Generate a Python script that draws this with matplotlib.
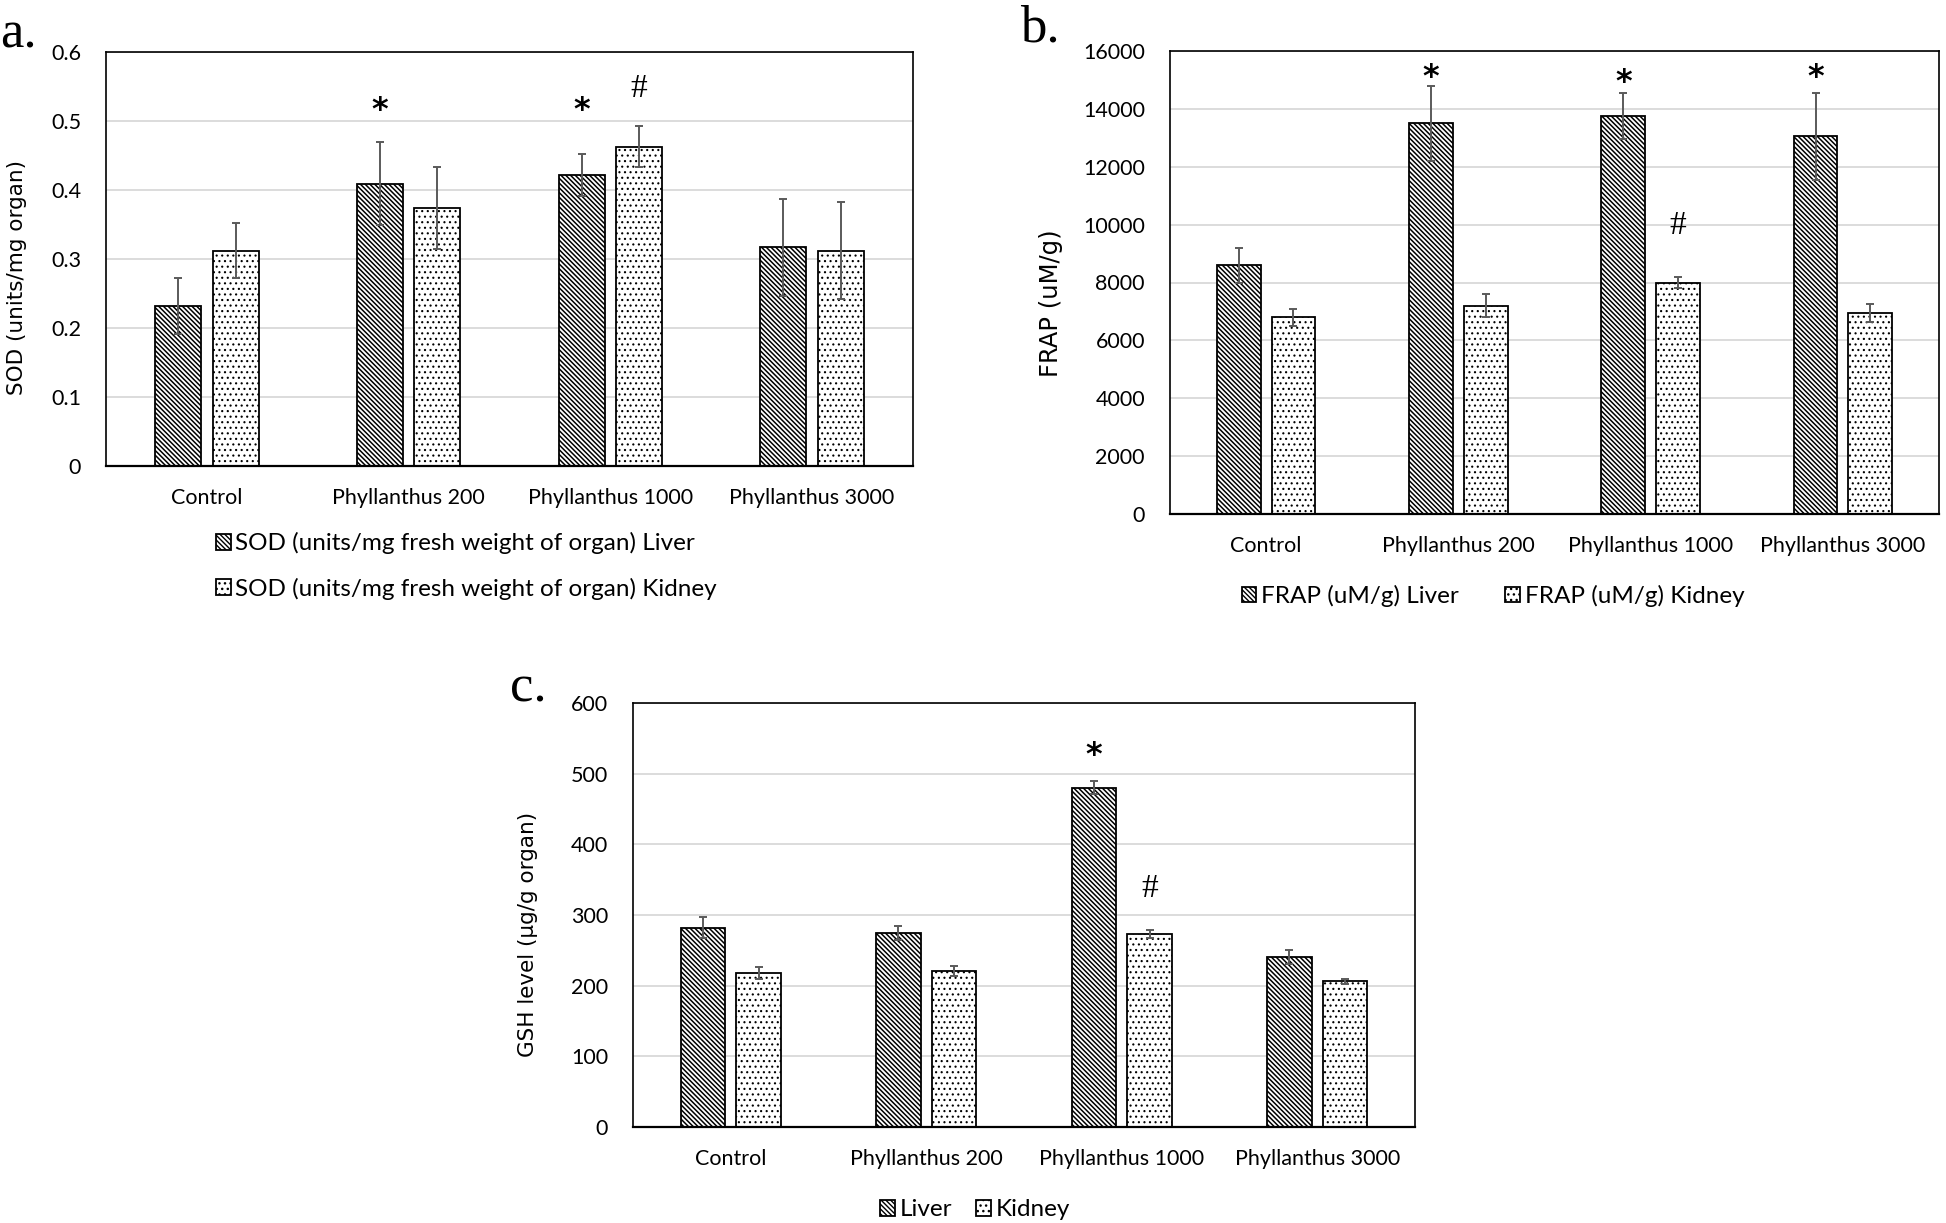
import numpy as np
import matplotlib
matplotlib.use("Agg")
import matplotlib.pyplot as plt

# ---------------- data ----------------
categories = ["Control", "Phyllanthus 200", "Phyllanthus 1000", "Phyllanthus 3000"]

sod_liver = [0.232, 0.409, 0.422, 0.317]
sod_liver_err = [0.040, 0.060, 0.030, 0.070]
sod_kidney = [0.312, 0.374, 0.463, 0.312]
sod_kidney_err = [0.040, 0.060, 0.030, 0.070]
sod_ticks = [0, 0.1, 0.2, 0.3, 0.4, 0.5, 0.6]
sod_tick_labels = ["0", "0.1", "0.2", "0.3", "0.4", "0.5", "0.6"]

frap_liver = [8600, 13500, 13750, 13050]
frap_liver_err = [600, 1300, 800, 1500]
frap_kidney = [6800, 7200, 8000, 6950]
frap_kidney_err = [300, 400, 200, 300]
frap_ticks = [0, 2000, 4000, 6000, 8000, 10000, 12000, 14000, 16000]

gsh_liver = [282, 275, 480, 241]
gsh_liver_err = [15, 10, 9, 10]
gsh_kidney = [218, 221, 273, 206]
gsh_kidney_err = [9, 7, 6, 3]
gsh_ticks = [0, 100, 200, 300, 400, 500, 600]

# significance marks: (category index, series, symbol, y position)
sod_marks = [(1, "liver", "*", 0.515), (2, "liver", "*", 0.515), (2, "kidney", "#", 0.547)]
frap_marks = [(1, "liver", "*", 15100), (2, "liver", "*", 14900), (3, "liver", "*", 15100),
              (2, "kidney", "#", 9960)]
gsh_marks = [(2, "liver", "*", 525), (2, "kidney", "#", 337)]

# ---------------- style ----------------
TICK_FONT = ["Lato", "DejaVu Sans"]
YLAB_FONT = ["DejaVu Sans"]
SERIF = ["Liberation Serif", "DejaVu Serif"]
plt.rcParams["font.family"] = TICK_FONT

W, H = 1946, 1223
fig = plt.figure(figsize=(W / 100, H / 100), dpi=100)
fig.patch.set_facecolor("white")

BAR_W = 0.228
OFF = 0.142
ERR_C = "#5a5a5a"
LEG_FS = 17.5
LIVER_HATCH, LIVER_HLW = "\\" * 7, 1.1
KIDNEY_HATCH, KIDNEY_HLW = "...", 0.8


def hatched_bars(ax, xpos, vals, hatch, hlw):
    with plt.rc_context({"hatch.linewidth": hlw}):
        bars = ax.bar(xpos, vals, BAR_W, color="white", edgecolor="black",
                      linewidth=1.3, hatch=hatch, zorder=2)
    for p in bars:
        if hasattr(p, "set_hatch_linewidth"):
            p.set_hatch_linewidth(hlw)
    return bars


def make_panel(rect, liver, liver_err, kidney, kidney_err, ticks, ylim, ylabel,
               ylab_x, marks, tick_labels=None):
    ax = fig.add_axes(rect)
    x = np.arange(len(categories))
    b1 = hatched_bars(ax, x - OFF, liver, LIVER_HATCH, LIVER_HLW)
    b2 = hatched_bars(ax, x + OFF, kidney, KIDNEY_HATCH, KIDNEY_HLW)
    ax.errorbar(x - OFF, liver, yerr=liver_err, fmt="none", ecolor=ERR_C,
                elinewidth=1.4, capsize=3, capthick=1.4, zorder=3)
    ax.errorbar(x + OFF, kidney, yerr=kidney_err, fmt="none", ecolor=ERR_C,
                elinewidth=1.4, capsize=3, capthick=1.4, zorder=3)
    ax.set_xlim(-0.5, len(categories) - 0.5)
    ax.set_ylim(*ylim)
    ax.set_yticks(ticks)
    if tick_labels is not None:
        ax.set_yticklabels(tick_labels)
    ax.set_xticks(x)
    ax.set_xticklabels(categories)
    ax.tick_params(axis="both", length=0, labelsize=15.5)
    ax.tick_params(axis="y", pad=18)
    ax.tick_params(axis="x", pad=16)
    ax.yaxis.grid(True, color="#d9d9d9", linewidth=1.3)
    ax.set_axisbelow(True)
    for s in ax.spines.values():
        s.set_color("black")
        s.set_linewidth(1.2)
    ax.spines["bottom"].set_linewidth(1.6)
    ax.set_ylabel(ylabel, fontsize=15.5, family=YLAB_FONT)
    ax.yaxis.set_label_coords(ylab_x, 0.455)
    for idx, series, sym, yy in marks:
        xx = idx - OFF if series == "liver" else idx + OFF
        if sym == "*":
            ax.text(xx, yy, sym, ha="center", va="center", fontsize=23,
                    family=["DejaVu Sans"], fontweight="bold")
        else:
            ax.text(xx, yy, sym, ha="center", va="center", fontsize=24,
                    family=SERIF)
    return ax, b1, b2


# panel a
axa, a1, a2 = make_panel([106 / W, 1 - 466 / H, (913 - 106) / W, (466 - 52) / H],
                         sod_liver, sod_liver_err, sod_kidney, sod_kidney_err,
                         sod_ticks, (0, 0.6), "SOD (units/mg organ)", -0.098, sod_marks,
                         sod_tick_labels)
axa.legend([a1, a2], ["SOD (units/mg fresh weight of organ) Liver",
                      "SOD (units/mg fresh weight of organ) Kidney"],
           loc="center left", bbox_to_anchor=(216 / W, 1 - 566 / H),
           bbox_transform=fig.transFigure, frameon=False, fontsize=LEG_FS,
           handlelength=0.6, handleheight=0.6, handletextpad=0.2,
           borderpad=0, borderaxespad=0, labelspacing=0.95)

# panel b
axb, b1, b2 = make_panel([1170 / W, 1 - 514 / H, (1939 - 1170) / W, (514 - 51) / H],
                         frap_liver, frap_liver_err, frap_kidney, frap_kidney_err,
                         frap_ticks, (0, 16000), "FRAP (uM/g)", -0.139, frap_marks)
axb.yaxis.label.set_fontsize(17.5)
axb.legend([b1, b2], ["FRAP (uM/g) Liver", "FRAP (uM/g) Kidney"],
           loc="center", bbox_to_anchor=(1493 / W, 1 - 596 / H),
           bbox_transform=fig.transFigure, frameon=False, fontsize=LEG_FS, ncol=2,
           handlelength=0.6, handleheight=0.6, handletextpad=0.2,
           borderpad=0, borderaxespad=0, columnspacing=1.9)

# panel c
axc, c1, c2 = make_panel([633 / W, 1 - 1127 / H, (1415 - 633) / W, (1127 - 703) / H],
                         gsh_liver, gsh_liver_err, gsh_kidney, gsh_kidney_err,
                         gsh_ticks, (0, 600), "GSH level (\u00b5g/g organ)", -0.121, gsh_marks)
axc.legend([c1, c2], ["Liver", "Kidney"],
           loc="center", bbox_to_anchor=(975 / W, 1 - 1210 / H),
           bbox_transform=fig.transFigure, frameon=False, fontsize=LEG_FS, ncol=2,
           handlelength=0.6, handleheight=0.6, handletextpad=0.2,
           borderpad=0, borderaxespad=0, columnspacing=1.0)

# panel letters
fig.text(0 / W, 1 - 48 / H, "a.", fontsize=38, family=SERIF, ha="left", va="baseline")
fig.text(1020 / W, 1 - 42 / H, "b.", fontsize=38, family=SERIF, ha="left", va="baseline")
fig.text(510 / W, 1 - 702 / H, "c.", fontsize=38, family=SERIF, ha="left", va="baseline")

fig.savefig("out.png", dpi=100, facecolor="white")
